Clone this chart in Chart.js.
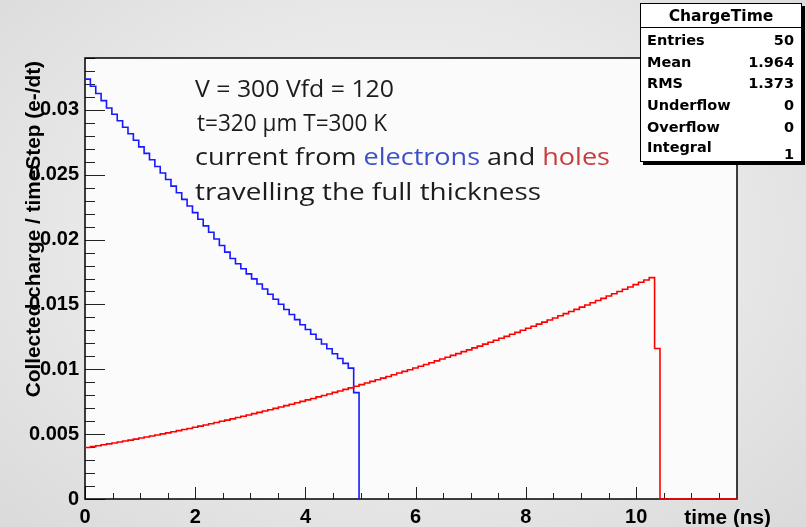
<!DOCTYPE html>
<html>
<head>
<meta charset="utf-8">
<script src="https://cdn.jsdelivr.net/npm/chart.js@4/dist/chart.umd.min.js"></script>
<style>
  html, body { margin: 0; padding: 0; }
  body {
    width: 806px; height: 527px; overflow: hidden;
    background: radial-gradient(ellipse at 50% 45%, #f3f3f3 0%, #e8e8e8 55%, #dadada 100%);
  }
  canvas { display: block; }
</style>
</head>
<body>
<canvas id="myChart" width="806" height="527"></canvas>
<script>
// histogram binning (ns)
const binWidth = 0.0975;
const xMax = 11.83;
const yMax = 0.034;

// collected charge per bin, electrons (blue) and holes (red)
const electronCounts = [
  0.03237, 0.03182, 0.03126, 0.03071, 0.03015, 0.02966, 0.02916, 0.02866, 0.02816, 0.02766,
  0.02715, 0.02665, 0.02615, 0.02564, 0.02513, 0.02463, 0.02412, 0.02361, 0.02310, 0.02259,
  0.02208, 0.02157, 0.02106, 0.02056, 0.02005, 0.01954, 0.01903, 0.01854, 0.01814, 0.01775,
  0.01736, 0.01697, 0.01658, 0.01619, 0.01579, 0.01540, 0.01501, 0.01461, 0.01422, 0.01383,
  0.01344, 0.01307, 0.01270, 0.01232, 0.01195, 0.01158, 0.01120, 0.01083, 0.01046, 0.01009,
  0.00820
];
const holeCounts = [
  0.00397, 0.00404, 0.00411, 0.00418, 0.00425, 0.00432, 0.00439, 0.00447, 0.00454, 0.00462,
  0.00470, 0.00478, 0.00486, 0.00494, 0.00502, 0.00510, 0.00518, 0.00527, 0.00536, 0.00544,
  0.00553, 0.00562, 0.00571, 0.00580, 0.00590, 0.00599, 0.00608, 0.00618, 0.00628, 0.00638,
  0.00648, 0.00658, 0.00668, 0.00678, 0.00688, 0.00699, 0.00709, 0.00720, 0.00731, 0.00742,
  0.00753, 0.00764, 0.00775, 0.00787, 0.00798, 0.00810, 0.00822, 0.00833, 0.00845, 0.00857,
  0.00869, 0.00882, 0.00894, 0.00907, 0.00919, 0.00932, 0.00945, 0.00958, 0.00971, 0.00984,
  0.00997, 0.01010, 0.01024, 0.01037, 0.01051, 0.01065, 0.01079, 0.01093, 0.01107, 0.01121,
  0.01136, 0.01150, 0.01165, 0.01179, 0.01194, 0.01209, 0.01224, 0.01239, 0.01254, 0.01270,
  0.01285, 0.01301, 0.01316, 0.01332, 0.01348, 0.01364, 0.01380, 0.01396, 0.01413, 0.01429,
  0.01446, 0.01462, 0.01479, 0.01496, 0.01513, 0.01530, 0.01547, 0.01565, 0.01582, 0.01600,
  0.01617, 0.01635, 0.01653, 0.01671, 0.01689, 0.01707, 0.01160
];

const xTicks = [0, 2, 4, 6, 8, 10];
const yTicks = [0, 0.005, 0.01, 0.015, 0.02, 0.025, 0.03];

const xTitle = 'time (ns)';
const yTitle = 'Collected charge / timeStep (e-/dt)';

const statsTitle = 'ChargeTime';
const statsLabels = ['Entries', 'Mean', 'RMS', 'Underflow', 'Overflow', 'Integral'];
const statsValues = ['50', '1.964', '1.373', '0', '0', '1'];

// text on the plot, split where the colour changes
const noteLines = [
  [['V = 300 Vfd = 120', 'text']],
  [['t=320 \u03bcm T=300 K', 'text']],
  [['current from ', 'text'], ['electrons', 'blue'], [' and ', 'text'], ['holes', 'red']],
  [['travelling the full thickness', 'text']]
];
const noteColors = { text: '#1c1c1c', blue: '#3d50c8', red: '#c83c3c' };

// histogram outline: one point per bin left edge, then down to zero
function toSteps(counts, tail) {
  const pts = counts.map((v, i) => ({ x: i * binWidth, y: v }));
  pts.push({ x: counts.length * binWidth, y: 0 });
  if (tail) pts.push({ x: xMax, y: 0 });
  return pts;
}

const rootStyle = {
  id: 'rootStyle',
  beforeDraw(chart) {
    const { ctx, chartArea: a } = chart;
    ctx.save();
    ctx.fillStyle = '#fbfbfb';
    ctx.fillRect(a.left, a.top, a.right - a.left, a.bottom - a.top);
    ctx.restore();
  },
  beforeDatasetsDraw(chart) {
    const { ctx, chartArea: a, scales: { x, y } } = chart;
    ctx.save();
    ctx.strokeStyle = '#222';
    ctx.lineWidth = 1;
    ctx.beginPath();
    // ticks point into the frame, ROOT style
    for (let k = 0; k * 0.001 <= yMax + 1e-9; k++) {
      const py = Math.round(y.getPixelForValue(k * 0.001)) + 0.5;
      const len = k % 5 === 0 ? 20 : 10;
      ctx.moveTo(a.left, py);
      ctx.lineTo(a.left + len, py);
    }
    for (let k = 0; k * 0.5 <= xMax; k++) {
      const px = Math.round(x.getPixelForValue(k * 0.5)) + 0.5;
      const len = k % 4 === 0 ? 12 : 6;
      ctx.moveTo(px, a.bottom);
      ctx.lineTo(px, a.bottom - len);
    }
    ctx.stroke();
    ctx.strokeStyle = '#000';
    ctx.lineWidth = 1.5;
    ctx.strokeRect(a.left, a.top, a.right - a.left, a.bottom - a.top);
    ctx.restore();
  },
  afterDraw(chart) {
    const { ctx, chartArea: a } = chart;
    ctx.save();

    // axis titles
    ctx.fillStyle = '#000';
    ctx.font = 'bold 20.8px "Liberation Sans", Arial, sans-serif';
    ctx.textBaseline = 'alphabetic';
    ctx.textAlign = 'right';
    ctx.fillText(xTitle, 771, 524);
    ctx.save();
    ctx.translate(40, a.top + 3);
    ctx.rotate(-Math.PI / 2);
    ctx.fillText(yTitle, 0, 0);
    ctx.restore();

    // annotation text, each line stretched to the width it has in the original
    const lineWidths = [199, 190, 415, 346];
    ctx.font = '23px "Open Sans", sans-serif';
    ctx.textAlign = 'left';
    noteLines.forEach((line, i) => {
      const full = line.reduce((w, [txt]) => w + ctx.measureText(txt).width, 0);
      ctx.save();
      ctx.translate(i === 1 ? 197 : 195, 97 + i * 34.2);
      ctx.scale(lineWidths[i] / full, 1);
      let cx = 0;
      line.forEach(([txt, col]) => {
        ctx.fillStyle = noteColors[col];
        ctx.fillText(txt, cx, 0);
        cx += ctx.measureText(txt).width;
      });
      ctx.restore();
    });

    // stats box
    const bx = 640, by = 3, bw = 162, bh = 159;
    ctx.fillStyle = '#000';
    ctx.fillRect(bx + 3, by + 3, bw, bh);
    ctx.fillStyle = '#fff';
    ctx.fillRect(bx, by, bw, bh);
    ctx.strokeStyle = '#000';
    ctx.lineWidth = 1;
    ctx.strokeRect(bx + 0.5, by + 0.5, bw - 1, bh - 1);
    ctx.beginPath();
    ctx.moveTo(bx, 27.5);
    ctx.lineTo(bx + bw, 27.5);
    ctx.stroke();
    ctx.fillStyle = '#000';
    ctx.font = 'bold 15.5px "DejaVu Sans", sans-serif';
    ctx.textAlign = 'center';
    ctx.fillText(statsTitle, bx + bw / 2, 21);
    ctx.font = 'bold 14.5px "DejaVu Sans", sans-serif';
    statsLabels.forEach((lab, i) => {
      const last = i === statsLabels.length - 1;
      const yy = 45 + i * 21.7;
      ctx.textAlign = 'left';
      ctx.fillText(lab, bx + 7, last ? yy - 2 : yy);
      ctx.textAlign = 'right';
      ctx.fillText(statsValues[i], bx + bw - 8, last ? yy + 5 : yy);
    });
    ctx.restore();
  }
};

const tickFont = { family: '"Liberation Sans", Arial, sans-serif', size: 20, weight: 'bold' };

const ctx = document.getElementById('myChart').getContext('2d');
const chart = new Chart(ctx, {
  type: 'line',
  data: {
    datasets: [
      {
        label: 'electrons',
        data: toSteps(electronCounts, false),
        borderColor: 'rgb(25, 25, 255)',
        borderWidth: 1.6,
        pointRadius: 0,
        stepped: 'before',
        fill: false,
        order: 2,
        clip: 3
      },
      {
        label: 'holes',
        data: toSteps(holeCounts, true),
        borderColor: 'rgb(255, 0, 0)',
        borderWidth: 1.6,
        pointRadius: 0,
        stepped: 'before',
        fill: false,
        order: 1,
        clip: 3
      }
    ]
  },
  options: {
    responsive: false,
    animation: false,
    layout: { padding: { top: 58, right: 69, left: 0, bottom: 0 } },
    plugins: { legend: { display: false }, tooltip: { enabled: false } },
    scales: {
      x: {
        type: 'linear',
        min: 0,
        max: xMax,
        grid: { display: false, drawTicks: false },
        border: { display: false },
        afterBuildTicks: s => { s.ticks = xTicks.map(v => ({ value: v })); },
        afterFit: s => { s.height = 28; },
        ticks: { color: '#000', font: tickFont, padding: 6, maxRotation: 0 }
      },
      y: {
        type: 'linear',
        min: 0,
        max: yMax,
        grid: { display: false, drawTicks: false },
        border: { display: false },
        afterBuildTicks: s => { s.ticks = yTicks.map(v => ({ value: v })); },
        afterFit: s => { s.width = 85; },
        ticks: {
          color: '#000',
          font: tickFont,
          padding: 6,
          callback: v => (v === 0 ? '0' : String(+v.toFixed(3)))
        }
      }
    }
  },
  plugins: [rootStyle]
});
</script>
</body>
</html>
